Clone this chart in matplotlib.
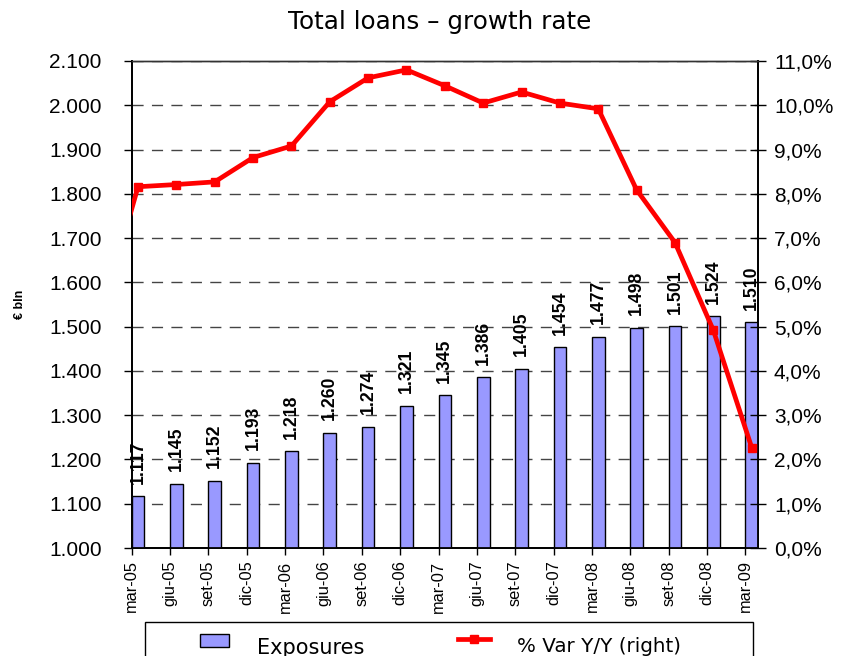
import numpy as np
import matplotlib
matplotlib.use('Agg')
import matplotlib.pyplot as plt
from matplotlib.ticker import FuncFormatter, MultipleLocator
from matplotlib.patches import Rectangle
from matplotlib.lines import Line2D
import matplotlib.transforms as mtransforms

# Dati trimestrali: impieghi (mld di euro) e variazione annua (%)
periods = ['mar-05', 'giu-05', 'set-05', 'dic-05', 'mar-06', 'giu-06',
           'set-06', 'dic-06', 'mar-07', 'giu-07', 'set-07', 'dic-07',
           'mar-08', 'giu-08', 'set-08', 'dic-08', 'mar-09']
exposures = [1117, 1145, 1152, 1193, 1218, 1260, 1274, 1321, 1345,
             1386, 1405, 1454, 1477, 1498, 1501, 1524, 1510]
growth = [8.16, 8.21, 8.27, 8.82, 9.08, 10.08, 10.62, 10.80, 10.44,
          10.05, 10.30, 10.05, 9.92, 8.09, 6.90, 4.92, 2.27]
growth_prev = 5.1  # dic-04, fuori dal grafico

BAR_W = 0.33
BAR_COLOR = '#9999ff'
LINE_COLOR = '#ff0000'
plt.rcParams['font.family'] = ['Liberation Sans', 'DejaVu Sans']
plt.rcParams['font.stretch'] = 'normal'

W, H = 849, 656
fig = plt.figure(figsize=(W / 100, H / 100), dpi=100)
ax = fig.add_axes([131.7 / W, 1 - 548 / H, (758 - 131.7) / W, (548 - 61) / H])
ax2 = ax.twinx()

x = np.arange(len(periods))
ax.bar(x, [v / 1000 for v in exposures], width=BAR_W, align='edge',
       color=BAR_COLOR, edgecolor='black', linewidth=1.0, zorder=3)

# etichette dei valori sopra le barre
for xi, v in zip(x, exposures):
    ax.annotate(f'{v // 1000}.{v % 1000:03d}', (xi + BAR_W / 2, v / 1000),
                xytext=(0, 9), textcoords='offset points', rotation=90,
                ha='center', va='bottom', fontsize=12.7, fontweight='bold',
                fontstretch='normal', zorder=4)

ax.set_xlim(0, len(periods) - 1 + BAR_W)
ax.set_ylim(1.0, 2.1)
ax.yaxis.set_major_locator(MultipleLocator(0.1))
ax.yaxis.set_major_formatter(FuncFormatter(lambda v, p: f'{v:.3f}'))
ax.set_xticks(x)
ax.set_xticklabels(periods, rotation=90, fontsize=11.8, va='top',
                   ha='center', fontstretch='normal')
offset = mtransforms.ScaledTranslation(4 / 100, 0, fig.dpi_scale_trans)
for lbl in ax.get_xticklabels():
    lbl.set_transform(lbl.get_transform() + offset)
ax.tick_params(axis='x', direction='out', length=5, width=1, pad=4)
ax.tick_params(axis='y', direction='out', length=5.5, width=1, pad=16,
               labelsize=15)
ax.grid(axis='y', color='#444444', linestyle=(0, (8, 6)), linewidth=1.0,
        zorder=0)
ax.set_axisbelow(True)
ax.set_ylabel('€ bln', fontsize=9, fontweight='bold')
ax.yaxis.set_label_coords(-0.168, 0.5)

# variazione annua, asse destro
xl = np.concatenate([[-1 + BAR_W / 2], x + BAR_W / 2])
ax2.plot(xl, [growth_prev] + growth, color=LINE_COLOR, linewidth=3.4,
         marker='s', markersize=5.5, zorder=5, clip_on=True)
ax2.set_ylim(0, 11)
ax2.yaxis.set_major_locator(MultipleLocator(1))
ax2.yaxis.set_major_formatter(
    FuncFormatter(lambda v, p: f'{v:.1f}%'.replace('.', ',')))
ax2.tick_params(axis='y', direction='inout', length=11, width=1, pad=6,
                labelsize=15)
ax2.set_xlim(ax.get_xlim())

for a in (ax, ax2):
    for s in a.spines.values():
        s.set_linewidth(1.3)
    a.spines['top'].set_color('#333333')
    a.spines['top'].set_linewidth(1.0)

fig.text(440 / W, 1 - 22 / H, 'Total loans – growth rate',
         family='DejaVu Sans', fontsize=17.7, ha='center', va='center')


# legenda in basso, tagliata dal bordo della figura
def px(xp, yp):
    return xp / W, 1 - yp / H


fig.add_artist(Rectangle(px(145, 680), (753 - 145) / W, 58 / H,
                         transform=fig.transFigure, facecolor='white',
                         edgecolor='black', linewidth=1.0))
fig.add_artist(Rectangle(px(199.5, 646.5), 29 / W, 12.5 / H,
                         transform=fig.transFigure, facecolor=BAR_COLOR,
                         edgecolor='black', linewidth=1.0))
fig.add_artist(Line2D([458 / W, 490 / W], [1 - 639 / H] * 2,
                      transform=fig.transFigure, color=LINE_COLOR,
                      linewidth=3.4))
fig.add_artist(Line2D([474 / W], [1 - 639 / H], transform=fig.transFigure,
                      color=LINE_COLOR, marker='s', markersize=5.5))
fig.text(*px(257, 654), 'Exposures', family='DejaVu Sans', fontsize=15,
         ha='left', va='baseline')
fig.text(*px(517, 652), '% Var Y/Y (right)', family='DejaVu Sans',
         fontsize=14.3, ha='left', va='baseline')

fig.savefig('out.png', dpi=100)
